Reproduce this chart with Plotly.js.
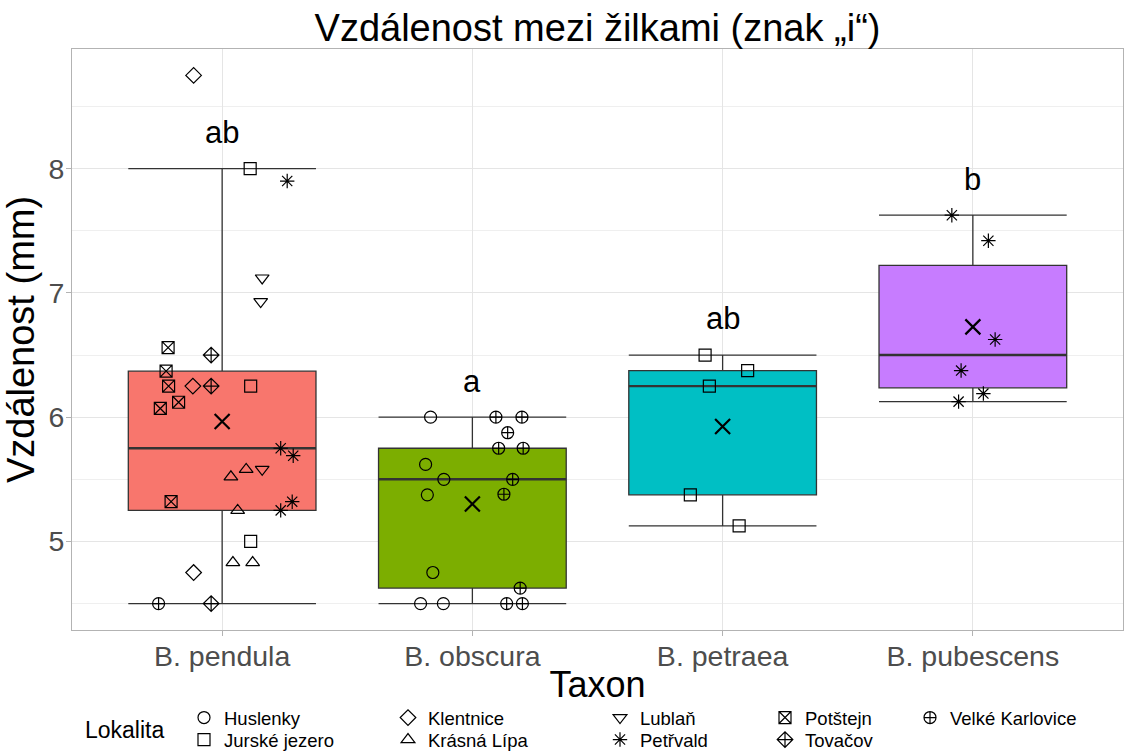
<!DOCTYPE html>
<html>
<head>
<meta charset="utf-8">
<script src="https://cdn.plot.ly/plotly-3.0.1.min.js"></script>
<style>html,body{margin:0;padding:0;background:#fff;}#chart{width:1125px;height:751px;}</style>
</head>
<body>
<div id="chart"></div>
<script>
// ---------- data ----------
const taxa = ['B. pendula', 'B. obscura', 'B. petraea', 'B. pubescens'];
const boxColors = ['#F8766D', '#7CAE00', '#00BFC4', '#C77CFF'];
const sigLetters = ['ab', 'a', 'ab', 'b'];
const lokality = ['Huslenky', 'Jurské jezero', 'Klentnice', 'Krásná Lípa', 'Lublaň',
                  'Petřvald', 'Potštejn', 'Tovačov', 'Velké Karlovice'];
const lokalitySymbols = ['circle-open', 'square-open', 'diamond-open', 'triangle-up-open',
                         'triangle-down-open', 'asterisk-open', 'square-x-open',
                         'diamond-cross-open', 'circle-cross-open'];

// B. pendula
const pendulaValues = [8.75, 8.0, 7.9, 7.12, 6.93, 6.56, 6.5, 6.37, 6.25, 6.25, 6.25, 6.25,
  6.12, 6.07, 5.75, 5.69, 5.58, 5.58, 5.52, 5.32, 5.32, 5.25, 5.25, 5.0, 4.83, 4.83, 4.75, 4.5, 4.5];
const pendulaSites = ['Klentnice', 'Jurské jezero', 'Petřvald', 'Lublaň', 'Lublaň', 'Potštejn',
  'Tovačov', 'Potštejn', 'Potštejn', 'Klentnice', 'Tovačov', 'Jurské jezero', 'Potštejn',
  'Potštejn', 'Petřvald', 'Petřvald', 'Lublaň', 'Krásná Lípa', 'Krásná Lípa', 'Potštejn',
  'Petřvald', 'Krásná Lípa', 'Petřvald', 'Jurské jezero', 'Krásná Lípa', 'Krásná Lípa',
  'Klentnice', 'Velké Karlovice', 'Tovačov'];
const pendulaJitter = [-0.114, 0.112, 0.26, 0.16, 0.154, -0.216, -0.044, -0.224, -0.214, -0.117,
  -0.044, 0.114, -0.174, -0.247, 0.234, 0.284, 0.16, 0.096, 0.035, -0.204, 0.28, 0.062, 0.234,
  0.114, 0.043, 0.122, -0.114, -0.254, -0.044];

// B. obscura
const obscuraValues = [6.0, 5.62, 5.5, 5.375, 4.75, 4.5, 4.5,
  6.0, 6.0, 5.875, 5.75, 5.75, 5.5, 5.38, 4.625, 4.5, 4.5];
const obscuraSites = ['Huslenky', 'Huslenky', 'Huslenky', 'Huslenky', 'Huslenky', 'Huslenky', 'Huslenky',
  'Velké Karlovice', 'Velké Karlovice', 'Velké Karlovice', 'Velké Karlovice', 'Velké Karlovice',
  'Velké Karlovice', 'Velké Karlovice', 'Velké Karlovice', 'Velké Karlovice', 'Velké Karlovice'];
const obscuraJitter = [-0.167, -0.187, -0.114, -0.18, -0.158, -0.207, -0.116,
  0.094, 0.198, 0.141, 0.105, 0.203, 0.161, 0.126, 0.191, 0.137, 0.2];

// B. petraea
const petraeaValues = [6.5, 6.375, 6.25, 5.375, 5.125];
const petraeaSites = ['Jurské jezero', 'Jurské jezero', 'Jurské jezero', 'Jurské jezero', 'Jurské jezero'];
const petraeaJitter = [-0.07, 0.1, -0.053, -0.129, 0.066];

// B. pubescens
const pubescensValues = [7.625, 7.42, 6.625, 6.375, 6.19, 6.125];
const pubescensSites = ['Petřvald', 'Petřvald', 'Petřvald', 'Petřvald', 'Petřvald', 'Petřvald'];
const pubescensJitter = [-0.084, 0.062, 0.089, -0.047, 0.042, -0.057];

const allValues = [pendulaValues, obscuraValues, petraeaValues, pubescensValues];
const allSites = [pendulaSites, obscuraSites, petraeaSites, pubescensSites];
const allJitter = [pendulaJitter, obscuraJitter, petraeaJitter, pubescensJitter];

// ---------- helpers ----------
function quantile7(arr, p) {
  const s = arr.slice().sort((a, b) => a - b);
  const h = (s.length - 1) * p;
  const lo = Math.floor(h), hi = Math.ceil(h);
  return s[lo] + (h - lo) * (s[hi] - s[lo]);
}
function boxStats(arr) {
  const q1 = quantile7(arr, 0.25), med = quantile7(arr, 0.5), q3 = quantile7(arr, 0.75);
  const iqr = q3 - q1;
  const inside = arr.filter(v => v >= q1 - 1.5 * iqr && v <= q3 + 1.5 * iqr);
  return {q1, med, q3, lo: Math.min(...inside), hi: Math.max(...inside),
          mean: arr.reduce((a, b) => a + b, 0) / arr.length};
}

const FONT = 'Liberation Sans, Arial, Helvetica, sans-serif';
const W = 1125, H = 751;
const M = {l: 72, r: 2, t: 49, b: 121};
const PW = W - M.l - M.r, PH = H - M.t - M.b;
const BOXW = 0.75;
const traces = [];
const annotations = [];
const stats = allValues.map(boxStats);

stats.forEach((st, i) => {
  traces.push({
    type: 'box', x: [i], q1: [st.q1], median: [st.med], q3: [st.q3],
    lowerfence: [st.lo], upperfence: [st.hi],
    width: BOXW, whiskerwidth: 1, fillcolor: boxColors[i],
    line: {color: '#333333', width: 1.3}, boxpoints: false,
    showlegend: false, hoverinfo: 'skip'
  });
  // thicker median line (ggplot fatten)
  traces.push({
    type: 'scatter', mode: 'lines', x: [i - BOXW / 2, i + BOXW / 2], y: [st.med, st.med],
    line: {color: '#333333', width: 2.4}, showlegend: false, hoverinfo: 'skip'
  });
  annotations.push({
    x: i, y: st.hi + 0.29, xref: 'x', yref: 'y', text: sigLetters[i], showarrow: false,
    font: {family: FONT, size: 31, color: '#000'}, xanchor: 'center', yanchor: 'middle'
  });
});

// legend layout: ggplot-style 2 rows x 5 columns, filled column by column
const legendColPx = [184, 388, 600, 765, 910];   // left edge of each legend column (px)
const legendRowPx = [718, 740];                   // vertical centre of each legend row (px)
const legends = {};

// points grouped by lokalita
lokality.forEach((lok, k) => {
  const xs = [], ys = [];
  allValues.forEach((vals, i) => {
    vals.forEach((v, j) => {
      if (allSites[i][j] === lok) { xs.push(i + allJitter[i][j]); ys.push(v); }
    });
  });
  const lid = k === 0 ? 'legend' : 'legend' + (k + 1);
  const col = Math.floor(k / 2), row = k % 2;
  legends[lid] = {
    orientation: 'v', xref: 'paper', yref: 'paper',
    x: (legendColPx[col] - M.l) / PW, xanchor: 'left',
    y: (H - M.b - legendRowPx[row]) / PH, yanchor: 'middle',
    font: {family: FONT, size: 18.5, color: '#000'},
    bgcolor: 'rgba(0,0,0,0)', borderwidth: 0, itemsizing: 'trace'
  };
  traces.push({
    type: 'scatter', mode: 'markers', name: lok, x: xs, y: ys, legend: lid,
    marker: {symbol: lokalitySymbols[k], size: 12, color: '#000',
             line: {color: '#000', width: 1.2}},
    hoverinfo: 'name+y'
  });
});

annotations.push({
  xref: 'paper', yref: 'paper', x: (83 - M.l) / PW, y: (H - M.b - 730) / PH,
  xanchor: 'left', yanchor: 'middle', showarrow: false, text: 'Lokalita',
  font: {family: FONT, size: 23, color: '#000'}
});

// means
traces.push({
  type: 'scatter', mode: 'markers', x: stats.map((s, i) => i), y: stats.map(s => s.mean),
  marker: {symbol: 'x-thin-open', size: 15, color: '#000', line: {color: '#000', width: 2.2}},
  showlegend: false, hoverinfo: 'y'
});

const flat = allValues.flat();
const ymin = Math.min(...flat), ymax = Math.max(...flat);
const pad = (ymax - ymin) * 0.05;

const layout = Object.assign({
  width: W, height: H,
  margin: Object.assign({autoexpand: false}, M),
  paper_bgcolor: '#fff', plot_bgcolor: '#fff',
  font: {family: FONT, color: '#000'},
  title: {text: 'Vzdálenost mezi žilkami (znak „i“)', x: 0.5, xref: 'paper',
          y: 1 - 28 / H, yref: 'container', yanchor: 'middle',
          font: {family: FONT, size: 38, color: '#000'}},
  xaxis: {
    range: [-0.6, 3.6], tickvals: [0, 1, 2, 3], ticktext: taxa,
    showgrid: true, gridcolor: '#E5E5E5', gridwidth: 1, zeroline: false,
    showline: true, mirror: true, linecolor: '#B3B3B3', linewidth: 1,
    ticks: 'outside', ticklen: 5, tickcolor: '#B3B3B3', ticklabelstandoff: -4,
    tickfont: {family: FONT, size: 28.5, color: '#4D4D4D'},
    title: {text: 'Taxon', standoff: 0, font: {family: FONT, size: 36, color: '#000'}}
  },
  yaxis: {
    range: [ymin - pad, ymax + pad], tick0: 0, dtick: 1,
    showgrid: true, gridcolor: '#E5E5E5', gridwidth: 1, zeroline: false,
    minor: {dtick: 0.5, showgrid: true, gridcolor: '#EFEFEF', gridwidth: 1},
    showline: true, mirror: true, linecolor: '#B3B3B3', linewidth: 1,
    ticks: 'outside', ticklen: 5, tickcolor: '#B3B3B3', ticklabelstandoff: -4,
    tickfont: {family: FONT, size: 28.5, color: '#4D4D4D'},
    title: {text: 'Vzdálenost (mm)', standoff: 2, font: {family: FONT, size: 38, color: '#000'}}
  },
  showlegend: true,
  annotations: annotations,
  boxmode: 'overlay'
}, legends);

Plotly.newPlot('chart', traces, layout, {displayModeBar: false, responsive: false});
</script>
</body>
</html>
